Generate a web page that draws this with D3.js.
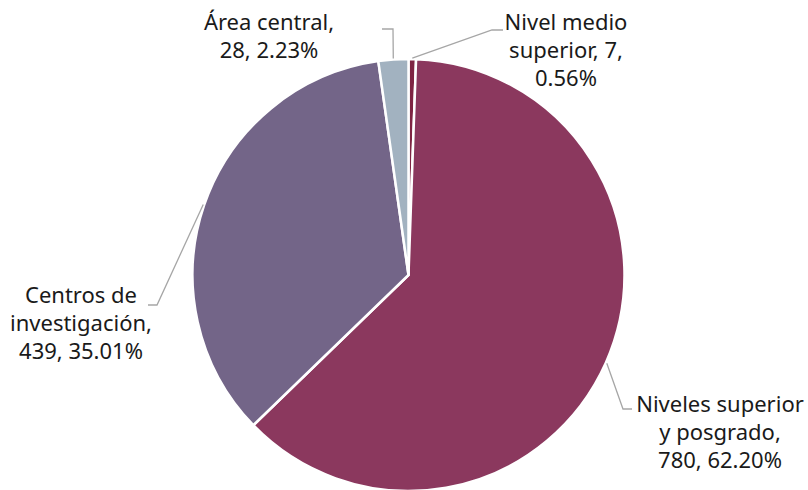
<!DOCTYPE html>
<html><head><meta charset="utf-8">
<script src="https://cdn.jsdelivr.net/npm/d3@7"></script>
<style>body{margin:0;background:#fff}svg{display:block}text{font-family:"Noto Sans",sans-serif;fill:#1a1a1a}</style>
</head><body>
<svg id="c" width="808" height="490"></svg>
<script>
const categories = ["Nivel medio superior", "Niveles superior y posgrado", "Centros de investigación", "Área central"];
const values = [7, 780, 439, 28];
const percents = ["0.56%", "62.20%", "35.01%", "2.23%"];
const colors = ["#7E2443", "#8B385E", "#736588", "#A2B2C0"];
const labelLines = [
  ["Nivel medio", "superior, 7,", "0.56%"],
  ["Niveles superior", "y posgrado,", "780, 62.20%"],
  ["Centros de", "investigación,", "439, 35.01%"],
  ["Área central,", "28, 2.23%"]
];
const labelPos = [[566, 30], [720, 412], [81, 303], [269, 30]];
const leaders = [
  [[0, 503, 30], [492, 30]],
  [[1, 632, 409], [623, 409]],
  [[2, 148, 305], [157, 305]],
  [[3, 382, 29], [393, 29]]
];

const svg = d3.select("#c");
const cx = 408.5, cy = 275, r = 216;
const g = svg.append("g").attr("transform", `translate(${cx},${cy})`);
const pie = d3.pie().sort(null).value(d => d)(values);
const arc = d3.arc().innerRadius(0).outerRadius(r);
g.selectAll("path").data(pie).join("path")
  .attr("d", arc).attr("fill", (d, i) => colors[i])
  .attr("stroke", "#fff").attr("stroke-width", 2.5).attr("stroke-linejoin", "round");

leaders.forEach(([[i, x0, y0], [x1, y1]]) => {
  const d = pie[i];
  const a = (d.startAngle + d.endAngle) / 2;
  const px = cx + Math.sin(a) * (r + 1), py = cy - Math.cos(a) * (r + 1);
  svg.append("polyline")
    .attr("points", `${x0},${y0} ${x1},${y1} ${px},${py}`)
    .attr("fill", "none").attr("stroke", "#A6A6A6").attr("stroke-width", 1.3);
});

labelLines.forEach((lines, i) => {
  const t = svg.append("text").attr("text-anchor", "middle").attr("font-size", 22);
  lines.forEach((l, k) => t.append("tspan").attr("x", labelPos[i][0]).attr("y", labelPos[i][1] + k * 28).text(l));
});
</script>
</body></html>
